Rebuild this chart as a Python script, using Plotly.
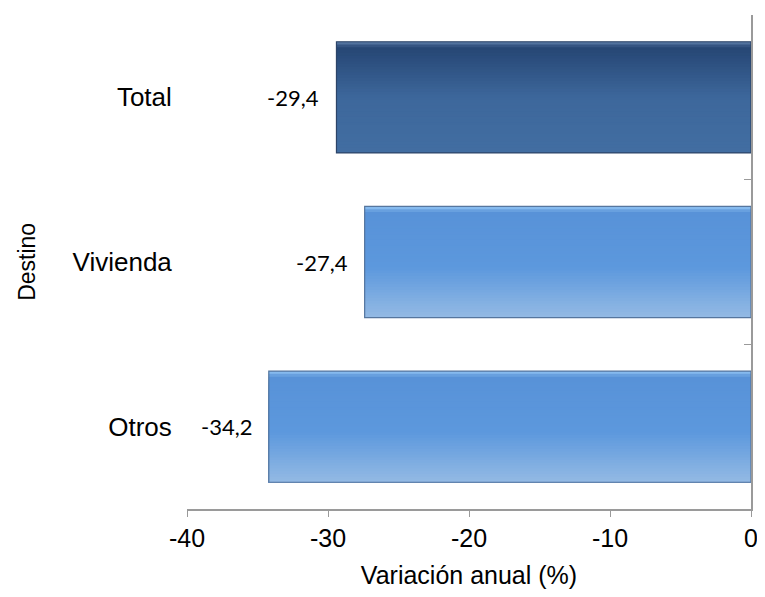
import plotly.graph_objects as go

# datos
categorias = ["Otros", "Vivienda", "Total"]
valores = [-34.2, -27.4, -29.4]
etiquetas = ["-34,2", "-27,4", "-29,4"]
x_ticks = [-40, -30, -20, -10, 0]
x_ticktext = ["-40", "-30", "-20", "-10", "0"]


def mezclar(stops, t):
    # interpolate between colour stops (t from 0=top to 1=bottom)
    for (t0, c0), (t1, c1) in zip(stops[:-1], stops[1:]):
        if t0 <= t <= t1:
            f = 0 if t1 == t0 else (t - t0) / (t1 - t0)
            rgb = [round(a + (b - a) * f) for a, b in zip(c0, c1)]
            return "rgb(%d,%d,%d)" % tuple(rgb)
    return "rgb(%d,%d,%d)" % stops[-1][1]


oscuro = [(0.0, (96, 128, 172)), (0.05, (38, 70, 116)), (0.5, (61, 103, 155)), (1.0, (66, 110, 162))]
claro = [(0.0, (150, 200, 245)), (0.05, (88, 146, 216)), (0.55, (92, 152, 221)), (1.0, (148, 186, 228))]
paletas = [claro, claro, oscuro]

ancho = 0.675
n = 40
paso = ancho / n

fig = go.Figure()
# gradient: each strip runs from its top edge to the bar bottom, drawn top to bottom
for i in range(n):
    t = (i + 0.5) / n
    fig.add_trace(go.Bar(
        x=valores, y=categorias, orientation="h",
        width=ancho - i * paso, offset=-ancho / 2,
        marker=dict(color=[mezclar(p, t) for p in paletas], line=dict(width=0)),
        showlegend=False, hoverinfo="skip",
    ))

# contorno
fig.add_trace(go.Bar(
    x=valores, y=categorias, orientation="h", width=ancho,
    marker=dict(color="rgba(0,0,0,0)", line=dict(color=["#56769e", "#56769e", "#2c4468"], width=1.2)),
    showlegend=False, hoverinfo="skip",
))

# eje derecho (linea en 0 con marcas entre categorias)
fig.add_trace(go.Scatter(x=[None], y=[None], yaxis="y2", showlegend=False, hoverinfo="skip"))

for cat, v, txt in zip(categorias, valores, etiquetas):
    fig.add_annotation(x=v, y=cat, text=txt, showarrow=False, xanchor="right",
                       xshift=-15, font=dict(family="Lato", size=22, color="black"))

fig.add_annotation(x=-0.284, y=0.5, xref="paper", yref="paper", text="Destino",
                   textangle=-90, showarrow=False, xanchor="center", yanchor="middle",
                   font=dict(family="Liberation Sans", size=23, color="black"))

fig.update_layout(
    width=757, height=589,
    margin=dict(l=179, r=9, t=7, b=88),
    barmode="overlay",
    plot_bgcolor="white", paper_bgcolor="white",
    font=dict(family="Liberation Sans", size=26, color="black"),
    xaxis=dict(range=[-40, 0], tickvals=x_ticks, ticktext=x_ticktext,
               ticks="outside", ticklen=6, tickfont=dict(size=25),
               tickcolor="#9a9a9a", showline=True, linecolor="#9a9a9a", linewidth=1.5,
               showgrid=False, zeroline=False,
               title=dict(text="Variación anual (%)", standoff=16, font=dict(size=25))),
    yaxis=dict(range=[-0.5, 2.5], showline=False, showgrid=False, zeroline=False,
               ticks="outside", ticklen=9, tickcolor="rgba(0,0,0,0)"),
    yaxis2=dict(range=[-0.5, 2.5], overlaying="y", side="right", anchor="x",
                tickvals=[-0.5, 0.5, 1.5, 2.5], showticklabels=False,
                ticks="inside", ticklen=7, tickcolor="#9a9a9a",
                showline=True, linecolor="#9a9a9a", linewidth=1.5,
                showgrid=False, zeroline=False),
)

fig.write_html("out.html")
